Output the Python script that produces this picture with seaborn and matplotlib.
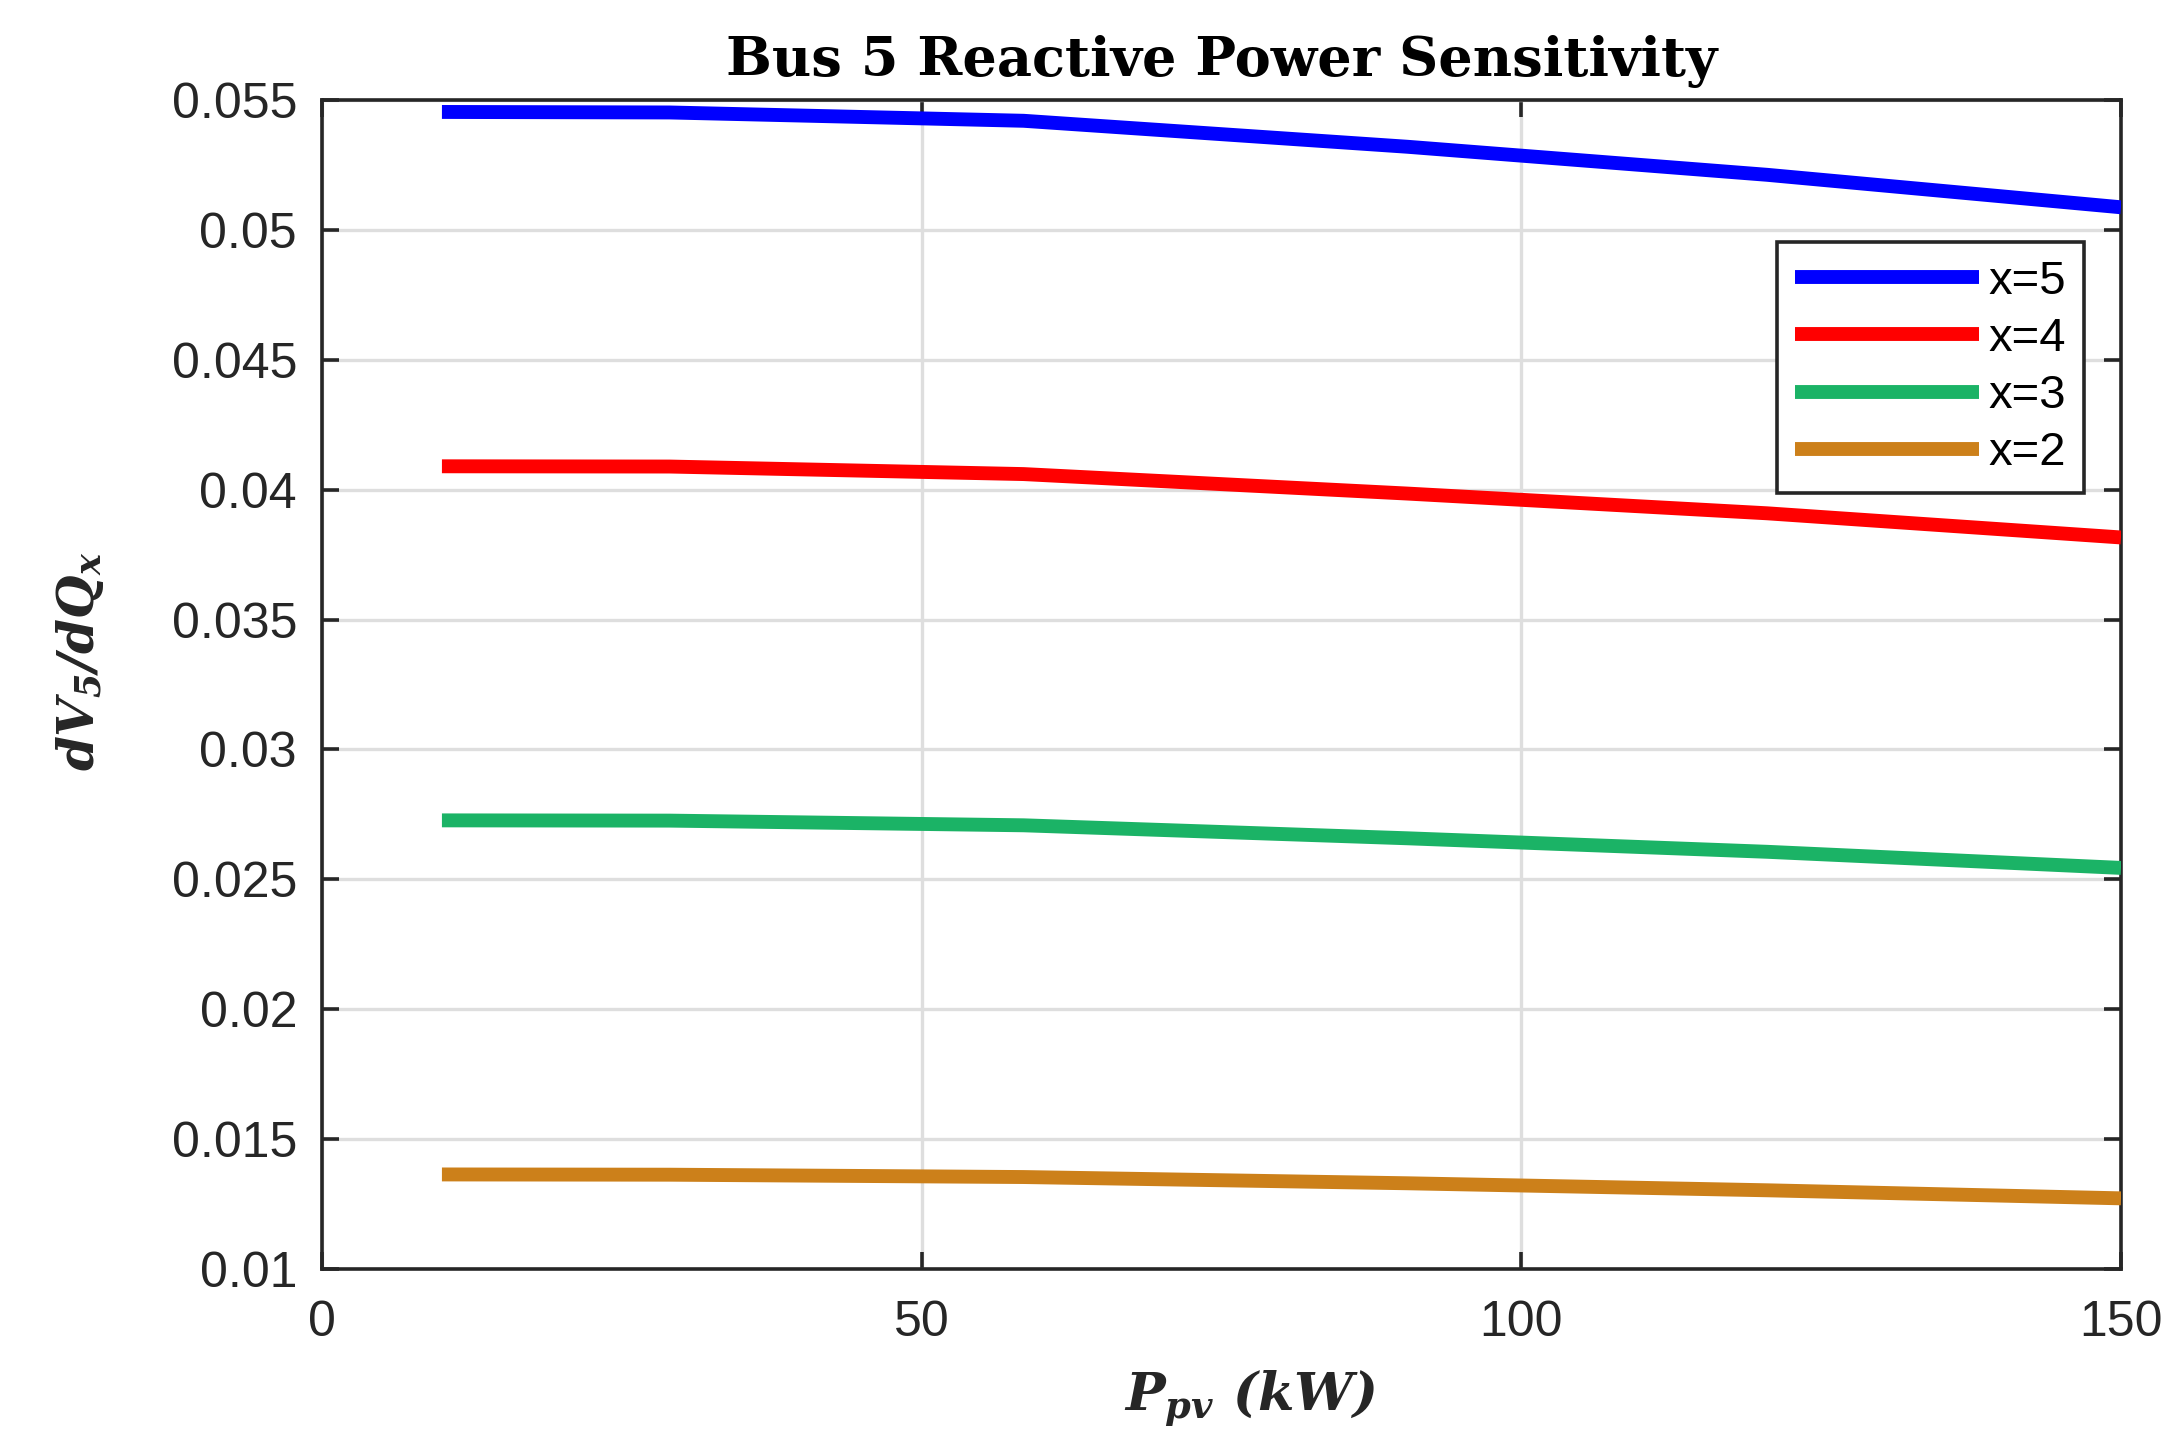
import matplotlib
matplotlib.use("Agg")
import matplotlib.pyplot as plt
import seaborn as sns
import pandas as pd
from matplotlib.ticker import FuncFormatter, FixedLocator

# ---- data ----
p_pv = [10, 29, 58.5, 90.5, 120.5, 150]
sens_x5 = [0.05454, 0.05452, 0.05420, 0.05320, 0.05212, 0.05087]
sens_x4 = [0.04090, 0.04089, 0.04060, 0.03985, 0.03909, 0.03816]
sens_x3 = [0.02727, 0.02726, 0.02708, 0.02658, 0.02606, 0.02544]
sens_x2 = [0.01364, 0.01363, 0.01354, 0.01330, 0.01303, 0.01272]
series_labels = ["x=5", "x=4", "x=3", "x=2"]
series_colors = ["#0000FF", "#FF0000", "#1BB366", "#CC801A"]
x_ticks = [0, 50, 100, 150]
y_ticks = [0.01, 0.015, 0.02, 0.025, 0.03, 0.035, 0.04, 0.045, 0.05, 0.055]

title = "Bus 5 Reactive Power Sensitivity"
xlabel = r"$P_{pv}\ (kW)$"
ylabel = r"$dV_5/dQ_x$"

rows = []
for lab, vals in zip(series_labels, [sens_x5, sens_x4, sens_x3, sens_x2]):
    for xv, yv in zip(p_pv, vals):
        rows.append({"P": xv, "S": yv, "series": lab})
df = pd.DataFrame(rows)

sns.set_theme(style="white")
plt.rcParams["font.family"] = ["Liberation Sans", "DejaVu Sans"]
plt.rcParams["mathtext.fontset"] = "custom"
plt.rcParams["mathtext.rm"] = "DejaVu Serif:italic:bold"
plt.rcParams["mathtext.it"] = "DejaVu Serif:italic:bold"
plt.rcParams["mathtext.bf"] = "DejaVu Serif:italic:bold"

dark = "#262626"
fig = plt.figure(figsize=(21.67, 14.37), dpi=100)
ax = fig.add_axes([322/2167, 1 - 1269/1437, (2121-322)/2167, (1269-100)/1437])

sns.lineplot(data=df, x="P", y="S", hue="series", hue_order=series_labels,
             palette=dict(zip(series_labels, series_colors)),
             linewidth=10, errorbar=None, ax=ax, legend=True,
             solid_capstyle="butt", zorder=3)

ax.set_xlim(0, 150)
ax.set_ylim(0.01, 0.055)
ax.xaxis.set_major_locator(FixedLocator(x_ticks))
ax.yaxis.set_major_locator(FixedLocator(y_ticks))
ax.yaxis.set_major_formatter(FuncFormatter(lambda v, p: f"{v:g}"))
ax.xaxis.set_major_formatter(FuncFormatter(lambda v, p: f"{v:g}"))

ax.grid(True, color="#dedede", linewidth=2.4, zorder=0)
ax.set_axisbelow(True)
for s in ax.spines.values():
    s.set_color(dark)
    s.set_linewidth(2.6)
ax.tick_params(axis="both", direction="in", length=12, width=2.6, color=dark,
               labelsize=36, labelcolor=dark, top=True, right=True,
               bottom=True, left=True)
ax.tick_params(axis="y", pad=18)
ax.tick_params(axis="x", pad=22)

ax.set_title(title, fontsize=39, fontweight="bold", family="DejaVu Serif",
             color="black", pad=17)
ax.set_xlabel(xlabel, fontsize=38, color=dark)
ax.set_ylabel(ylabel, fontsize=36, color=dark)
ax.xaxis.set_label_coords(0.516, -0.085)
ax.yaxis.set_label_coords(-0.12, 0.52)

handles, labels = ax.get_legend_handles_labels()
leg = ax.legend(handles, labels, loc="upper right",
                bbox_to_anchor=(0.9794, 0.8788), borderaxespad=0,
                fontsize=34, handlelength=3.9, handletextpad=0.2,
                labelspacing=0.28, borderpad=0.38, fancybox=False,
                framealpha=1, edgecolor=dark)
leg.get_frame().set_linewidth(2.6)
for h in leg.get_lines():
    h.set_linewidth(10)
for t in leg.get_texts():
    t.set_color("black")

fig.savefig("out.png", dpi=100)
